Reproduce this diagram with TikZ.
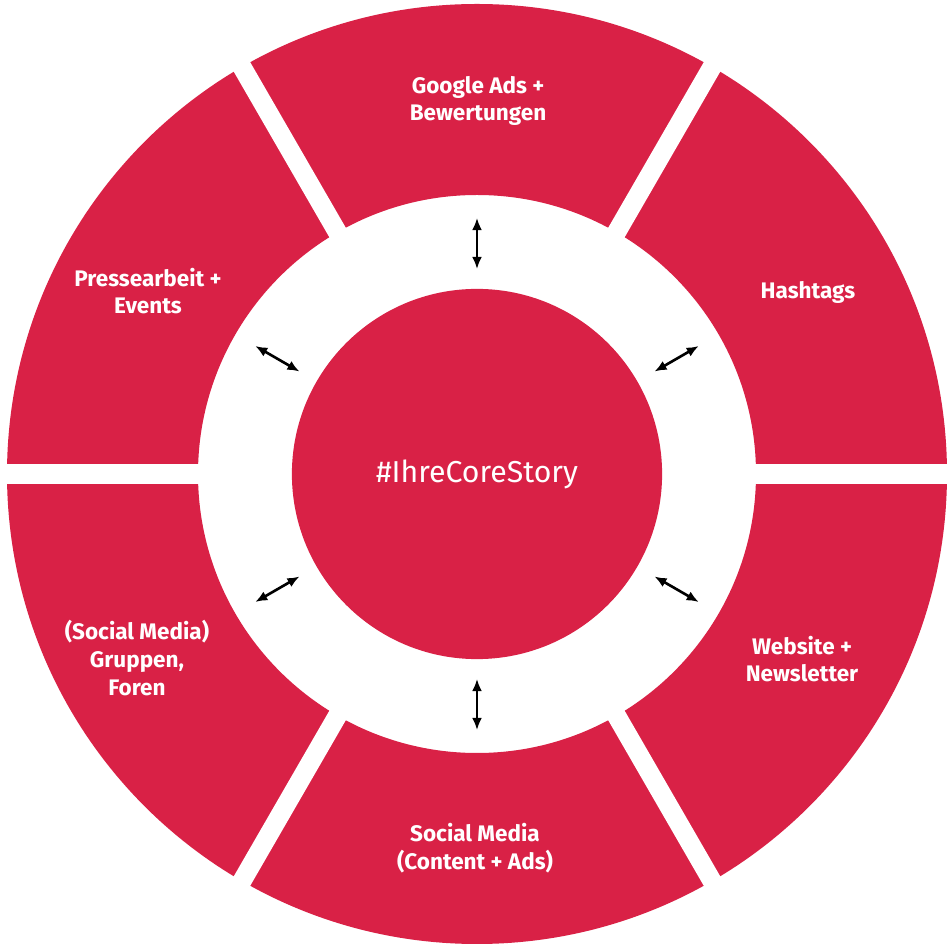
\documentclass[tikz,border=0pt]{standalone}
\usepackage{fontspec}
\setmainfont{Fira Sans}
\usepackage{xcolor}
\usetikzlibrary{arrows.meta}
\definecolor{storyred}{RGB}{217,33,70}

\begin{document}
\begin{tikzpicture}[x=0.01cm, y=0.01cm,
		channel/.style={text=white, font=\fontsize{6.4}{7.9}\selectfont\bfseries, align=center, inner sep=0pt},
		link/.style={{Latex[length=0.12cm,width=0.1cm]}-{Latex[length=0.12cm,width=0.1cm]}, line width=0.75pt}]
	\useasboundingbox (0, 0) rectangle (951, 948);
	\begin{scope}[shift={(477, 474)}]
		\fill[storyred, even odd rule] (0, 0) circle (470) (0, 0) circle (279);
		\foreach \a in {0, 60, 120}
			\draw[white, line width=0.19cm] (\a:490) -- (\a+180:490);
		\node[circle, fill=storyred, minimum size=3.7cm, inner sep=0pt, text=white, font=\fontsize{8.6}{10}\selectfont] (core) at (0, 0) {\#IhreCoreStory};
		\foreach \a [count=\i] in {90, 30, 330, 270, 210, 150} {
			\coordinate (near\i) at (\a:205);
			\coordinate (far\i) at (\a:256);
			\draw[link] (near\i) -- (far\i);
		}
	\end{scope}
	\node[channel] (google) at (478, 847) {Google Ads +\\Bewertungen};
	\node[channel] (hashtags) at (808, 656) {Hashtags};
	\node[channel] (website) at (802, 289) {Website +\\Newsletter};
	\node[channel] (social) at (475, 100) {Social Media\\(Content + Ads)};
	\node[channel] (groups) at (137, 290) {(Social Media)\\Gruppen,\\Foren};
	\node[channel] (press) at (148, 657) {Pressearbeit +\\Events};
\end{tikzpicture}
\end{document}
